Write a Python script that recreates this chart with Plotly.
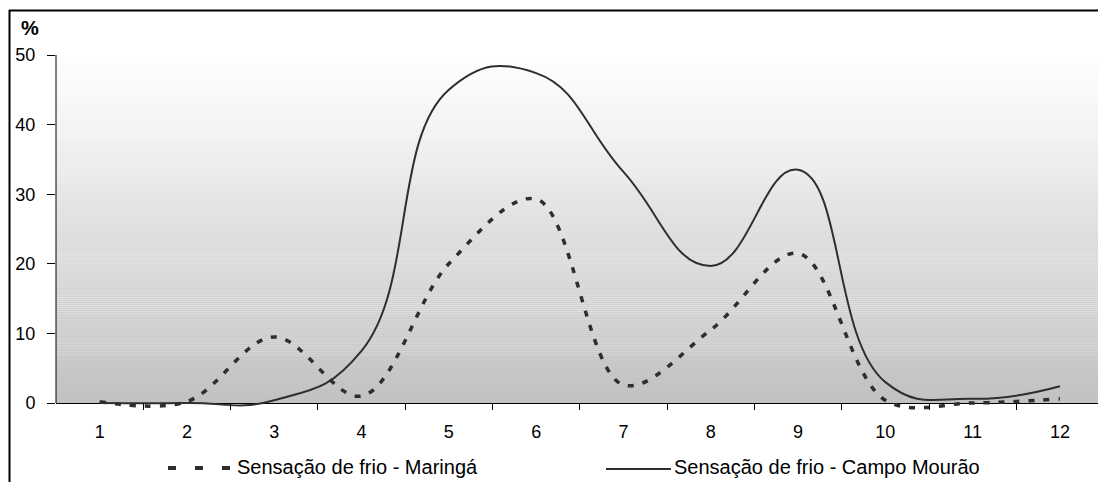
import plotly.graph_objects as go

# ---- data ----
months = ["1", "2", "3", "4", "5", "6", "7", "8", "9", "10", "11", "12"]
maringa = [0.2, 0.2, 9.5, 1.0, 20.0, 29.3, 2.6, 10.5, 21.5, 0.4, 0.0, 0.6]
campo_mourao = [0.0, 0.0, 0.4, 7.5, 45.0, 47.4, 33.2, 19.7, 33.5, 3.0, 0.6, 2.4]
y_ticks = [0, 10, 20, 30, 40, 50]
name_maringa = "Sensação de frio - Maringá"
name_campo = "Sensação de frio - Campo Mourão"

W, H = 1098, 482
ML, MR, MT, MB = 56, 0, 55, 72
PW, PH = W - ML - MR, H - MT - MB
Y_TOP = 50.0
PX_PER_UNIT = (403 - 55) / Y_TOP
Y_BOTTOM = -(410 - 403) / PX_PER_UNIT
CAT_PX = 87.3
X_RANGE = [-0.5, -0.5 + PW / CAT_PX]

def px_x(px):
    return (px - ML) / PW

def px_y(py):
    return (H - MB - py) / PH

LINE_COL = "#2e2e2e"
FONT = "Liberation Sans, Arial, sans-serif"

fig = go.Figure()
fig.add_trace(go.Scatter(
    x=months, y=maringa, mode="lines", name=name_maringa,
    line=dict(color=LINE_COL, width=3.5, dash="6px,9px", shape="spline", smoothing=1.0),
    showlegend=False,
))
fig.add_trace(go.Scatter(
    x=months, y=campo_mourao, mode="lines", name=name_campo,
    line=dict(color=LINE_COL, width=2, shape="spline", smoothing=1.3),
    showlegend=False,
))

shapes = []
# vertical gradient background of the plot area (white -> grey)
n = 175
top_c, bot_c = 255, 193
for i in range(n):
    y0 = Y_TOP * i / n
    y1 = Y_TOP * (i + 1) / n + 0.02
    t = (i + 0.5) / n
    c = round(bot_c + (top_c - bot_c) * t)
    shapes.append(dict(type="rect", xref="paper", yref="y", x0=0, x1=1, y0=y0, y1=min(y1, Y_TOP),
                       fillcolor=f"rgb({c},{c},{c})", line=dict(width=0), layer="below"))
# y axis line
shapes.append(dict(type="line", xref="paper", yref="y", x0=0, x1=0, y0=0, y1=Y_TOP,
                   line=dict(color="black", width=1)))
# chart frame (top and left)
shapes.append(dict(type="line", xref="paper", yref="paper", x0=px_x(9), x1=px_x(1098),
                   y0=px_y(10.5), y1=px_y(10.5), line=dict(color="black", width=2)))
shapes.append(dict(type="line", xref="paper", yref="paper", x0=px_x(9.5), x1=px_x(9.5),
                   y0=px_y(10), y1=px_y(482), line=dict(color="black", width=2)))
# legend samples
shapes.append(dict(type="line", xref="paper", yref="paper", x0=px_x(168), x1=px_x(233),
                   y0=px_y(468), y1=px_y(468), line=dict(color=LINE_COL, width=4, dash="8px,19px")))
shapes.append(dict(type="line", xref="paper", yref="paper", x0=px_x(606), x1=px_x(671),
                   y0=px_y(469), y1=px_y(469), line=dict(color=LINE_COL, width=2)))

annotations = [
    dict(text="<b>%</b>", xref="paper", yref="paper", x=px_x(30), y=px_y(28), showarrow=False,
         xanchor="center", yanchor="middle", font=dict(family=FONT, size=20, color="black")),
    dict(text=name_maringa, xref="paper", yref="paper", x=px_x(235), y=px_y(467), showarrow=False,
         xanchor="left", yanchor="middle", font=dict(family=FONT, size=20, color="black")),
    dict(text=name_campo, xref="paper", yref="paper", x=px_x(672), y=px_y(467), showarrow=False,
         xanchor="left", yanchor="middle", font=dict(family=FONT, size=20, color="black")),
]

fig.update_layout(
    width=W, height=H,
    margin=dict(l=ML, r=MR, t=MT, b=MB, pad=0),
    paper_bgcolor="white", plot_bgcolor="white",
    font=dict(family=FONT, size=18, color="black"),
    shapes=shapes, annotations=annotations,
    showlegend=False,
    xaxis=dict(type="category", range=X_RANGE, tickson="boundaries", ticks="inside",
               ticklen=7, tickcolor="black", tickwidth=1, showline=False, showgrid=False,
               zeroline=False, ticklabelstandoff=9, tickfont=dict(size=18)),
    yaxis=dict(range=[Y_BOTTOM, Y_TOP], tickvals=y_ticks, ticks="outside", ticklen=8,
               tickcolor="black", tickwidth=1, showline=False, showgrid=False,
               zeroline=True, zerolinecolor="black", zerolinewidth=1,
               ticklabelstandoff=8, tickfont=dict(size=18)),
)

fig.write_html("out.html")
